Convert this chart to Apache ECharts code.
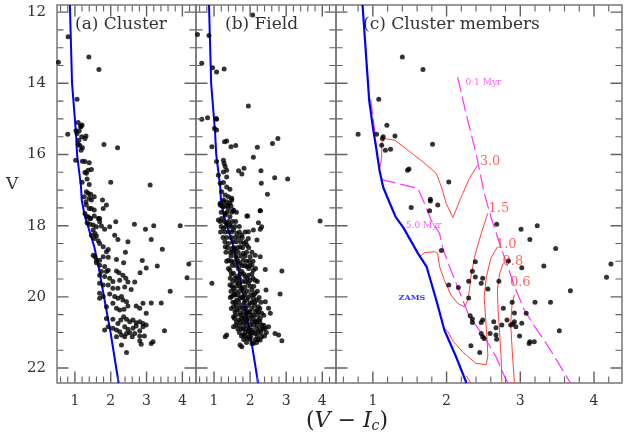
<!DOCTYPE html>
<html>
<head>
<meta charset="UTF-8">
<title>CMD</title>
<script src="https://cdn.jsdelivr.net/npm/echarts@6/dist/echarts.min.js"></script>
<style>
  body { margin: 0; background: #fff; }
  #main { width: 624px; height: 439px; }
</style>
</head>
<body>
<div id="main"></div>
<script>
// ZAMS (panels a, b) and (panel c)
var ZAMS_AB = [[0.86,11.8],[0.92,14.0],[1.03,15.4],[1.06,16.0],[1.17,16.9],[1.19,17.28],[1.28,17.75],[1.36,18.0],[1.54,18.59],[1.67,19.2],[1.81,19.99],[2.0,21.03],[2.22,22.42]];
var ZAMS_C = [[0.86,11.8],[0.95,14.47],[1.0,15.23],[1.05,15.88],[1.09,16.44],[1.14,16.92],[1.23,17.37],[1.31,17.76],[1.41,18.04],[1.61,18.77],[1.73,19.16],[1.86,20.09],[1.97,20.93],[2.13,21.69],[2.27,22.42]];
// isochrones
var ISO_01 = [[2.15,13.83],[2.27,14.9],[2.40,15.97],[2.51,17.08],[2.60,17.75],[2.72,18.5],[2.83,19.15],[2.93,19.75],[3.05,20.35],[3.2,20.85],[3.35,21.3],[3.5,21.8],[3.68,22.42]];
var ISO_50 = [[0.97,14.45],[1.02,15.25],[1.05,15.88],[1.09,16.44],[1.12,16.70],[1.185,16.74],[1.61,16.95],[1.70,17.37],[1.79,17.84],[1.905,18.22],[1.95,18.64],[2.04,19.15],[2.22,20.09],[2.31,20.56],[2.51,21.12],[2.67,21.68],[2.81,22.34],[2.84,22.42]];
// mass tracks
var TRK_30 = [[2.42,16.30],[2.31,16.67],[2.20,17.19],[2.085,17.77],[1.995,17.37],[1.93,16.91],[1.86,16.53],[1.68,16.21],[1.50,15.92],[1.30,15.60],[1.16,15.55],[1.12,15.69],[1.12,16.06],[1.10,16.35]];
var TRK_15 = [[2.56,17.65],[2.47,18.22],[2.38,18.87],[2.33,19.44],[2.31,19.81],[2.29,20.09],[2.24,20.28],[2.15,20.18],[2.06,19.95],[1.97,19.53],[1.905,19.15],[1.88,18.78],[1.84,18.73],[1.70,18.76],[1.66,18.83],[1.63,18.88]];
var TRK_10 = [[2.69,18.59],[2.60,18.92],[2.54,19.44],[2.51,20.0],[2.53,20.6],[2.55,21.2],[2.56,21.65],[2.54,21.9],[2.40,21.87],[2.22,21.55],[2.09,21.25],[2.02,20.98],[1.98,20.9]];
var TRK_08 = [[2.77,19.05],[2.72,19.35],[2.69,19.8],[2.70,20.4],[2.72,21.0],[2.74,21.7],[2.75,22.42]];
var TRK_06 = [[2.92,19.95],[2.89,20.18],[2.87,20.74],[2.89,21.49],[2.92,22.42]];
var TRK_LOW = [[2.27,22.22],[2.33,22.42]];
var TRACK_LABELS = [[2.59,16.21,'3.0'],[2.71,17.51,'1.5'],[2.81,18.52,'1.0'],[2.90,19.02,'0.8'],[3.00,19.61,'0.6']];
var ISO_LABELS = [[2.50,13.98,'0 1 Myr'],[1.69,18.01,'5.0 Myr']];
var ZAMS_LABEL = [[1.53,20.03,'ZAMS']];

// stars
var CLUSTER_A = [[0.81,12.69],[0.54,13.41],[1.39,13.26],[1.67,13.61],[1.06,14.45],[1.09,15.10],[1.16,15.20],
[1.03,15.33],[1.12,15.33],[1.17,15.22],[1.20,15.17],[1.06,15.41],[1.19,15.50],[1.31,15.48],[1.28,15.55],[0.80,15.43],[1.11,15.60],[1.14,15.75],[1.09,15.71],[1.21,15.81],[1.17,15.88],[1.02,16.16],[1.21,16.19],[1.28,16.20],[1.40,16.23],[1.46,16.42],[1.37,16.44],[1.32,16.53],[1.28,16.50],[1.34,16.69],[1.20,16.78],[1.40,16.84],[1.32,17.05],[1.37,17.09],[1.44,17.12],[1.26,17.19],[1.40,17.23],[1.46,17.28],[1.54,17.19],[1.31,17.33],[1.32,17.42],[1.40,17.52],[1.46,17.52],[1.54,17.56],[1.77,17.28],[1.88,17.42],[1.79,17.52],[1.81,15.72],[2.19,15.81],[2.00,16.78],[3.10,16.86],[1.69,17.80],[1.42,17.80],[1.34,17.75],
[1.28,17.66],[1.37,17.75],[1.44,17.80],[1.54,17.73],[1.65,17.80],[1.34,17.92],[1.42,17.96],[1.51,17.98],[1.60,18.03],[1.69,17.89],[1.74,18.01],[1.83,18.10],[1.97,18.03],[2.14,17.89],[1.51,18.12],[1.56,18.22],[1.46,18.27],[1.60,18.29],[1.54,18.36],[1.65,18.42],[2.11,18.27],[2.20,18.39],[2.48,18.45],[1.69,18.50],[1.79,18.59],[1.93,18.67],[1.88,18.73],[2.41,18.75],[1.51,18.83],[1.56,18.87],[1.60,18.97],[1.69,18.97],[1.79,18.87],[1.93,18.89],[2.16,18.95],[2.36,19.04],[1.60,19.04],[1.69,19.11],[1.83,19.15],[1.93,19.25],[1.74,19.29],[1.88,19.29],[2.16,19.27],[2.23,19.32],[2.34,19.39],[2.42,19.48],[1.69,19.39],[1.83,19.43],[1.97,19.48],[2.06,19.57],[1.69,19.62],[1.79,19.67],[1.93,19.67],[2.06,19.76],[2.25,19.53],[2.48,19.58],[2.67,19.58],[2.39,19.72],[2.20,19.76],[2.57,19.79],[1.69,19.90],[1.79,19.99],[1.97,19.92],[2.11,19.99],[2.20,20.04],[2.30,19.99],[2.34,20.09],[2.44,20.14],[1.69,20.04],[1.88,20.28],[2.06,20.18],[2.16,20.32],[2.25,20.37],[2.37,20.35],[2.48,20.26],[2.71,20.26],[2.81,20.32],[2.90,20.18],[2.99,20.46],[3.13,20.17],[3.41,20.17],[1.88,20.61],[2.06,20.63],[2.20,20.75],[2.28,20.65],[2.36,20.56],[2.44,20.63],[2.53,20.70],[2.62,20.65],[2.71,20.73],[2.81,20.70],[2.90,20.75],[2.99,20.79],[1.93,20.84],[2.06,20.88],[2.16,20.93],[2.25,20.98],[2.39,20.84],[2.48,20.91],[2.62,20.88],[2.71,20.82],[2.81,20.95],[2.90,20.84],[1.83,20.93],[2.16,21.12],[2.30,21.07],[2.39,21.12],[2.44,21.03],[2.53,21.01],[2.60,21.12],[2.67,21.03],[2.81,21.10],[2.94,21.10],[2.85,21.33],[3.13,21.31],[3.18,21.26],[3.50,20.95],[2.30,21.35],[2.44,21.56],[2.81,21.23],[3.66,19.84],[3.44,18.66],[3.30,19.13],[3.13,18.39],[2.97,18.10],[3.20,18.00],[3.94,18.00],[2.66,17.96],[2.88,18.98],[2.99,19.19],[2.82,19.32],[4.18,19.08],[4.13,19.46]];

var FIELD_B = [[0.54,12.63],[0.86,12.66],[2.07,12.08],[0.66,13.44],[0.96,13.56],[1.07,13.68],[1.28,13.60],[1.95,14.64],[0.66,15.01],[0.82,14.97],[1.06,14.99],[1.07,15.01],[1.01,15.27],[1.07,15.31],[0.94,15.78],[1.29,15.64],[1.35,15.62],[1.47,15.78],[1.60,15.75],[2.20,15.80],[2.62,15.69],[2.77,15.55],[2.09,16.08],[1.07,16.20],[1.26,16.16],[1.28,16.25],[1.31,16.34],[1.35,16.44],[1.26,16.49],[1.68,16.46],[1.77,16.55],[1.83,16.39],[2.30,16.46],[2.68,16.65],[3.04,16.69],[2.31,16.81],[1.12,16.58],[1.35,16.63],[1.17,16.81],[1.26,16.79],[1.35,16.91],[1.44,16.98],[1.21,17.05],[1.31,17.14],[1.40,17.19],[1.49,17.23],[1.26,17.28],[1.35,17.33],[1.44,17.36],[2.48,17.12],[1.17,17.42],[1.26,17.47],[1.40,17.52],[1.54,17.58],[2.28,17.58],[1.91,17.73],[1.31,17.66],[1.44,17.75],
[1.17,17.37],[1.26,17.33],[1.40,17.42],[1.49,17.28],[1.54,17.56],[1.93,17.73],[2.28,17.58],[2.23,17.92],[2.28,18.10],[2.32,18.03],[3.94,17.87],[1.12,17.84],[1.21,17.80],[1.31,17.70],[1.35,17.94],[1.44,17.98],[1.26,18.08],[1.40,18.17],[1.54,18.12],[1.63,18.22],[1.77,18.26],[1.95,18.17],[2.09,18.12],[1.83,18.50],[1.95,18.36],[2.19,18.40],[1.31,18.59],[1.40,18.50],[1.49,18.64],[1.58,18.69],[1.72,18.59],[1.81,18.78],[1.91,18.55],[2.00,18.87],[2.14,18.83],[2.28,18.87],[1.40,18.97],[1.54,19.01],[1.63,18.92],[1.72,19.06],[1.81,18.97],[1.91,19.15],[2.05,19.11],[2.09,19.25],[2.42,19.23],[2.88,19.27],[1.44,19.25],[1.54,19.34],[1.63,19.43],[1.77,19.29],[1.86,19.43],[1.95,19.39],[2.00,19.53],[2.14,19.53],[0.94,19.62],[1.44,19.67],[1.54,19.76],[1.68,19.62],[1.77,19.76],[1.86,19.72],[1.95,19.62],[2.05,19.81],[2.14,19.90],[2.44,19.81],[2.83,19.92],[1.49,19.99],[1.58,19.95],[1.63,20.09],[1.72,20.04],[1.81,19.99],[1.91,20.09],[2.00,20.18],[2.09,20.04],[2.19,20.09],[2.23,20.28],[2.42,20.14],[2.51,20.32],[2.56,20.46],[1.54,20.28],[1.63,20.37],[1.72,20.46],[1.81,20.32],[1.91,20.46],[2.00,20.42],[2.09,20.51],[2.19,20.37],[2.32,20.46],[1.54,20.56],[1.68,20.65],[1.77,20.61],[1.81,20.75],[1.91,20.65],[2.00,20.79],[2.14,20.70],[2.23,20.65],[2.32,20.79],[1.54,20.84],[1.81,20.88],[1.95,20.98],[2.05,20.93],[2.14,21.03],[2.23,20.98],[2.32,21.12],[2.42,20.88],[2.51,20.84],[2.69,21.03],[2.79,21.07],[2.88,21.23],[1.31,21.12],[1.35,21.07],[1.81,21.07],[1.91,21.17],[2.09,21.31],[1.95,21.12],[2.28,21.21],[1.72,21.35],[1.77,21.40],[2.05,21.31]];

// densest part of the field band, estimated row by row
var FIELD_B_DENSE = [[1.22,17.45],[1.33,17.45],[1.47,17.45],[1.20,17.62],[1.36,17.62],[1.49,17.62],[1.62,17.62],
[1.17,17.88],[1.28,17.88],[1.40,17.88],[1.51,17.88],[1.60,17.88],[1.20,18.02],[1.33,18.02],[1.47,18.02],[1.58,18.02],[1.70,18.02],
[1.18,18.18],[1.30,18.18],[1.49,18.18],[1.70,18.18],[1.86,18.18],[1.25,18.33],[1.35,18.33],[1.47,18.33],[1.58,18.33],[1.68,18.33],[1.78,18.33],
[1.30,18.45],[1.52,18.45],[1.62,18.45],[1.74,18.45],[1.88,18.45],[1.37,18.62],[1.56,18.62],[1.65,18.62],[1.79,18.62],[1.96,18.62],
[1.33,18.75],[1.45,18.75],[1.53,18.75],[1.67,18.75],[1.90,18.75],[2.05,18.75],[1.47,18.85],[1.60,18.85],[1.74,18.85],[1.86,18.85],
[1.35,19.00],[1.47,19.00],[1.67,19.00],[1.90,19.00],[1.98,19.00],[2.08,19.00],[1.50,19.12],[1.60,19.12],[1.78,19.12],[1.85,19.12],[1.99,19.12],
[1.40,19.20],[1.68,19.20],[1.96,19.20],[2.15,19.20],[1.48,19.36],[1.72,19.36],[1.82,19.36],[2.05,19.36],
[1.45,19.48],[1.58,19.48],[1.70,19.48],[1.92,19.48],[2.08,19.48],[1.52,19.57],[1.63,19.57],[1.80,19.57],[1.88,19.57],[2.20,19.57],
[1.50,19.70],[1.62,19.70],[1.72,19.70],[2.00,19.70],[2.10,19.70],[1.47,19.84],[1.58,19.84],[1.70,19.84],[1.82,19.84],[1.92,19.84],[2.20,19.84],
[1.55,19.94],[1.67,19.94],[1.86,19.94],[2.02,19.94],[2.10,19.94],[1.45,20.02],[1.77,20.02],[1.95,20.02],[2.25,20.02],
[1.52,20.15],[1.58,20.15],[1.68,20.15],[1.84,20.15],[2.05,20.15],[2.13,20.15],[2.30,20.15],[1.62,20.24],[1.76,20.24],[1.95,20.24],[2.12,20.24],
[1.48,20.33],[1.70,20.33],[1.88,20.33],[2.05,20.33],[2.27,20.33],[1.58,20.42],[1.82,20.42],[1.96,20.42],[2.15,20.42],[2.24,20.42],
[1.60,20.52],[1.74,20.52],[1.86,20.52],[2.02,20.52],[2.20,20.52],[2.38,20.52],[1.56,20.60],[1.84,20.60],[1.97,20.60],[2.09,20.60],[2.28,20.60],
[1.62,20.70],[1.74,20.70],[1.87,20.70],[2.05,20.70],[2.18,20.70],[2.27,20.70],[1.60,20.80],[1.70,20.80],[1.90,20.80],[2.10,20.80],[2.20,20.80],[2.38,20.80],
[1.66,20.90],[1.76,20.90],[1.88,20.90],[1.98,20.90],[2.18,20.90],[2.28,20.90],[2.36,20.90],[1.70,21.00],[1.86,21.00],[2.00,21.00],[2.08,21.00],[2.30,21.00],[2.45,21.00],
[1.76,21.10],[1.86,21.10],[2.02,21.10],[2.20,21.10],[2.40,21.10],[1.82,21.20],[2.00,21.20],[2.14,21.20],[2.22,21.20],[1.90,21.28],[2.18,21.28]];

var MEMBERS_C = [[1.40,13.26],[1.68,13.61],[1.08,14.45],[1.19,15.18],[0.80,15.43],[1.05,15.43],[1.14,15.50],[1.13,15.55],[1.30,15.48],[1.12,15.74],[1.17,15.88],[1.24,15.85],[1.81,15.71],[1.49,16.41],[1.47,16.44],[2.03,16.77],[1.78,17.26],[1.78,17.31],[1.88,17.42],[1.52,17.49],[1.77,17.58],
[2.68,17.96],[3.23,18.00],[3.01,18.10],[3.13,18.39],[3.48,18.64],[1.93,18.70],[2.39,19.01],[2.84,18.99],[3.02,19.18],[3.32,19.13],[4.23,19.08],[4.17,19.45],[2.35,19.28],[2.39,19.44],[2.49,19.48],[2.30,19.56],[2.47,19.62],[2.71,19.56],[2.03,19.67],[2.16,19.74],[2.56,19.78],[3.68,19.83],[2.30,20.03],[2.89,20.15],[3.20,20.15],[3.41,20.15],[2.77,20.32],[2.92,20.45],[3.08,20.46],[2.32,20.53],[2.35,20.62],[2.35,20.72],[2.47,20.72],[2.49,20.65],[2.64,20.70],[2.82,20.65],[2.90,20.76],[2.92,20.70],[3.02,20.74],[2.67,20.87],[2.75,20.79],[2.87,20.79],[2.94,20.84],[2.47,21.03],[2.59,21.03],[2.67,21.07],[2.49,21.12],[2.51,21.17],[2.68,21.19],[2.99,21.10],[3.53,20.95],[3.12,21.31],[3.13,21.26],[3.19,21.26],[2.33,21.37],[2.45,21.56]];

// axis ranges and ticks
var X_RANGE = [0.5, 4.38];
var Y_RANGE = [11.8, 22.42];
var X_MAJOR = [1, 2, 3, 4];
var X_MINOR = [0.6,0.8,1.2,1.4,1.6,1.8,2.2,2.4,2.6,2.8,3.2,3.4,3.6,3.8,4.2];
var Y_MAJOR = [12, 14, 16, 18, 20, 22];
var Y_MINOR = [12.5,13,13.5,14.5,15,15.5,16.5,17,17.5,18.5,19,19.5,20.5,21,21.5];

var chart = echarts.init(document.getElementById('main'));
var SERIF = 'DejaVu Serif';
var AX = '#777777';
var TICK = '#606060';

var grids = [
  { left: 57, top: 5, width: 139, height: 378 },
  { left: 196, top: 5, width: 140, height: 378 },
  { left: 336, top: 5, width: 286, height: 378 }
];

var xAxes = grids.map(function (g, i) {
  return {
    gridIndex: i, type: 'value', min: X_RANGE[0], max: X_RANGE[1],
    axisLine: { show: false }, splitLine: { show: false }, axisTick: { show: false },
    axisLabel: { customValues: X_MAJOR, margin: 11, fontFamily: SERIF, fontSize: 14, color: '#333' }
  };
});
var yAxes = grids.map(function (g, i) {
  return {
    gridIndex: i, type: 'value', min: Y_RANGE[0], max: Y_RANGE[1], inverse: true,
    axisLine: { show: false }, splitLine: { show: false }, axisTick: { show: false },
    axisLabel: { show: i === 0, customValues: Y_MAJOR, margin: 11, fontFamily: SERIF, fontSize: 15, color: '#333' }
  };
});

function dots(i, data) {
  return { type: 'scatter', xAxisIndex: i, yAxisIndex: i, data: data, symbolSize: 5,
    itemStyle: { color: '#000' }, z: 5, silent: true };
}
function curve(i, data, color, width, dash) {
  return { type: 'line', xAxisIndex: i, yAxisIndex: i, data: data, showSymbol: false,
    lineStyle: { color: color, width: width, type: dash || 'solid' }, z: 3, silent: true };
}
function labels(i, data, color, size, bold) {
  return { type: 'scatter', xAxisIndex: i, yAxisIndex: i, data: data, symbolSize: 0, z: 4, silent: true,
    label: { show: true, position: 'inside', formatter: function (p) { return p.value[2]; },
      color: color, fontFamily: SERIF, fontSize: size, fontWeight: bold ? 'bold' : 'normal' } };
}

// inward tick marks: each one a short two-point line on the panel's own axes,
// starting just inside the frame; pixel length turned into axis units
function tickSeries(i) {
  var g = grids[i];
  var perPxY = (Y_RANGE[1] - Y_RANGE[0]) / g.height;
  var perPxX = (X_RANGE[1] - X_RANGE[0]) / g.width;
  var yb = Y_RANGE[1] - 0.5 * perPxY, yt = Y_RANGE[0] + 0.5 * perPxY;
  var xl = X_RANGE[0] + 0.5 * perPxX, xr = X_RANGE[1] - 0.5 * perPxX;
  var out = [];
  function seg(a, b, w) {
    out.push({ type: 'line', xAxisIndex: i, yAxisIndex: i, data: [a, b], showSymbol: false,
      silent: true, z: 6, lineStyle: { color: TICK, width: w } });
  }
  [[X_MAJOR, 11, 1.4], [X_MINOR, 6, 1.1]].forEach(function (s) {
    s[0].forEach(function (v) {
      seg([v, yb], [v, yb - s[1] * perPxY], s[2]);
      seg([v, yt], [v, yt + s[1] * perPxY], s[2]);
    });
  });
  [[Y_MAJOR, 11, 1.4], [Y_MINOR, 6, 1.1]].forEach(function (s) {
    s[0].forEach(function (v) {
      seg([xl, v], [xl + s[1] * perPxX, v], s[2]);
      seg([xr, v], [xr - s[1] * perPxX, v], s[2]);
    });
  });
  return out;
}

var RED = '#ff4040', MAG = '#ff33ff', BLUE = '#0000ff';
var series = [].concat(tickSeries(0), tickSeries(1), tickSeries(2), [
  curve(0, ZAMS_AB, BLUE, 2), dots(0, CLUSTER_A),
  curve(1, ZAMS_AB, BLUE, 2), dots(1, FIELD_B), dots(1, FIELD_B_DENSE),
  curve(2, ISO_01, MAG, 1.2, [15, 5]),
  curve(2, ISO_50, MAG, 1.2, [15, 5]),
  curve(2, TRK_30, RED, 1), curve(2, TRK_15, RED, 1), curve(2, TRK_10, RED, 1),
  curve(2, TRK_08, RED, 1), curve(2, TRK_06, RED, 1), curve(2, TRK_LOW, RED, 1),
  curve(2, ZAMS_C, BLUE, 2.2),
  dots(2, MEMBERS_C),
  labels(2, TRACK_LABELS, RED, 13),
  labels(2, ISO_LABELS, MAG, 9),
  labels(2, ZAMS_LABEL, BLUE, 8, true)
]);

var option = {
  animation: false,
  backgroundColor: '#fff',
  grid: grids.map(function (g) {
    return { left: g.left, top: g.top, width: g.width, height: g.height, show: true,
      borderColor: AX, borderWidth: 1.5, backgroundColor: 'transparent' };
  }),
  xAxis: xAxes,
  yAxis: yAxes,
  series: series,
  graphic: [
    { type: 'text', left: 75, top: 16, style: { text: '(a) Cluster', font: '17px "DejaVu Serif"', fill: '#333' } },
    { type: 'text', left: 225, top: 16, style: { text: '(b) Field', font: '17px "DejaVu Serif"', fill: '#333' } },
    { type: 'text', left: 363, top: 16, style: { text: '(c) Cluster members', font: '17px "DejaVu Serif"', fill: '#333' } },
    { type: 'text', left: 6, top: 176, style: { text: 'V', font: '17px "DejaVu Serif"', fill: '#333' } },
    { type: 'text', left: 306, top: 410, style: {
      text: '{n|(}{i|V}{n| − }{i|I}{s|c}{n|)}',
      rich: {
        n: { fontFamily: SERIF, fontSize: 22, fill: '#222' },
        i: { fontFamily: SERIF, fontStyle: 'italic', fontSize: 22, fill: '#222' },
        s: { fontFamily: SERIF, fontStyle: 'italic', fontSize: 14, fill: '#222', padding: [10, 0, 0, 0] }
      } } }
  ]
};
chart.setOption(option);
</script>
</body>
</html>
